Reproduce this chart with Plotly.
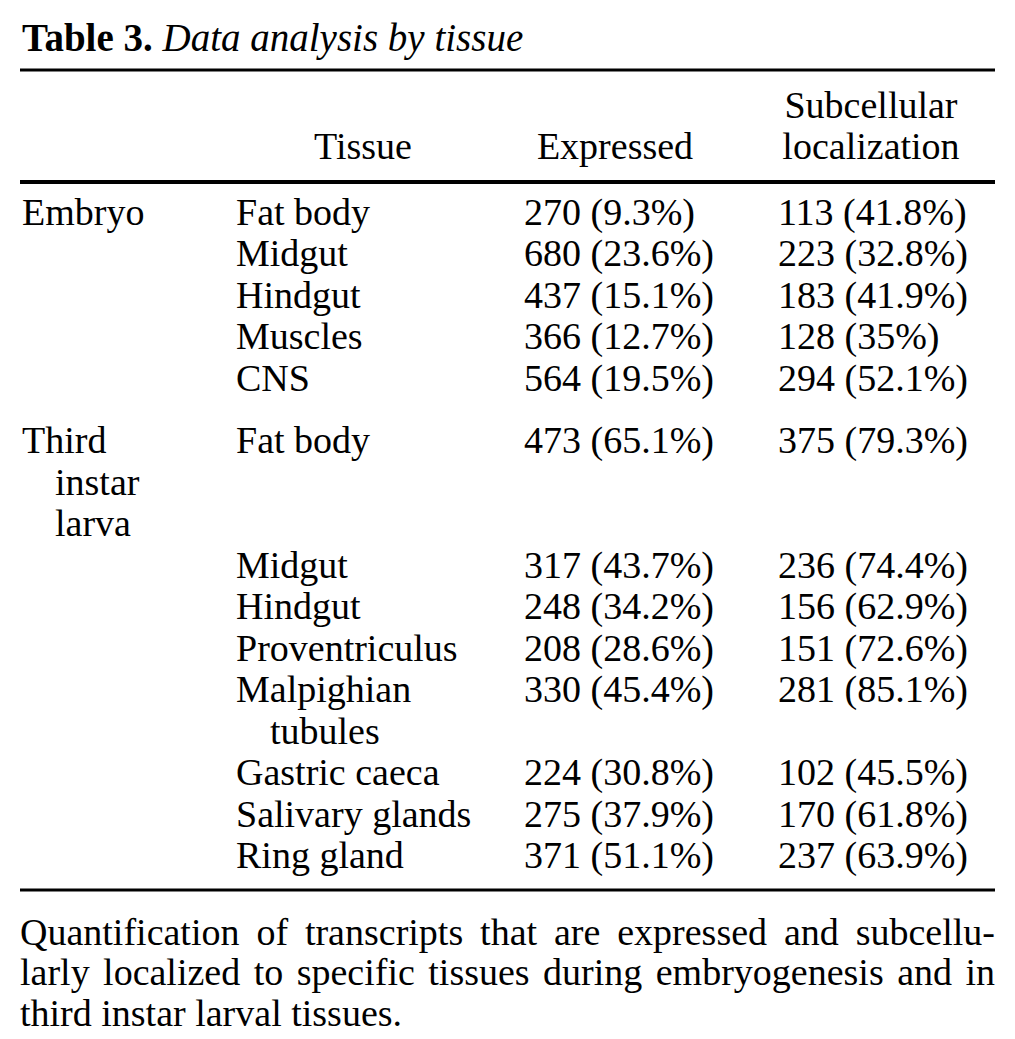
import plotly.graph_objects as go

# table content
stages = ["Embryo", "Third instar larva"]
tissues = [
    ["Fat body", "Midgut", "Hindgut", "Muscles", "CNS"],
    ["Fat body", "Midgut", "Hindgut", "Proventriculus", "Malpighian tubules",
     "Gastric caeca", "Salivary glands", "Ring gland"],
]
expressed_n = [
    [270, 680, 437, 366, 564],
    [473, 317, 248, 208, 330, 224, 275, 371],
]
expressed_pct = [
    ["9.3", "23.6", "15.1", "12.7", "19.5"],
    ["65.1", "43.7", "34.2", "28.6", "45.4", "30.8", "37.9", "51.1"],
]
subcell_n = [
    [113, 223, 183, 128, 294],
    [375, 236, 156, 151, 281, 102, 170, 237],
]
subcell_pct = [
    ["41.8", "32.8", "41.9", "35", "52.1"],
    ["79.3", "74.4", "62.9", "72.6", "85.1", "45.5", "61.8", "63.9"],
]
# how words wrap inside the narrow columns
stage_lines = {"Embryo": ["Embryo"], "Third instar larva": ["Third", "instar", "larva"]}
tissue_lines = {"Malpighian tubules": ["Malpighian", "tubules"]}

title_bold = "Table 3."
title_italic = "Data analysis by tissue"
headers = ["Tissue", "Expressed", ["Subcellular", "localization"]]
caption = [
    "Quantification of transcripts that are expressed and subcellu-",
    "larly localized to specific tissues during embryogenesis and in",
    "third instar larval tissues.",
]

W, H = 1015, 1039
FONT = "Liberation Serif"
FS = 38
CAP_FS = 38
LH = 41.5
GROUP_GAP = 21
Y0 = 215
X_STAGE, X_STAGE_IND = 22, 55
X_TISSUE, X_TISSUE_IND = 236, 270
X_EXP, X_SUB = 524, 778
LEFT, RIGHT = 20, 995

# Times-style advance widths (per 1000 em) for justifying the caption
ADV = dict(zip("abcdefghijklmnopqrstuvwxyz",
               [444, 500, 444, 500, 444, 333, 500, 500, 278, 278, 500, 278, 778,
                500, 500, 500, 500, 333, 389, 278, 500, 500, 722, 500, 500, 444]))
ADV.update({"Q": 722, "-": 333, ".": 250})


def word_width(w, size):
    return sum(ADV.get(c, 500) for c in w) * size / 1000


xs, ys, texts = [], [], []


def put(x, y, t):
    xs.append(x)
    ys.append(y)
    texts.append(t)


line = 0
for g, stage in enumerate(stages):
    y_base = Y0 + g * GROUP_GAP
    s_lines = stage_lines.get(stage, [stage])
    for k, s in enumerate(s_lines):
        put(X_STAGE if k == 0 else X_STAGE_IND, y_base + (line + k) * LH, s)
    for i, tissue in enumerate(tissues[g]):
        t_lines = tissue_lines.get(tissue, [tissue])
        y = y_base + line * LH
        for k, t in enumerate(t_lines):
            put(X_TISSUE if k == 0 else X_TISSUE_IND, y + k * LH, t)
        put(X_EXP, y, f"{expressed_n[g][i]} ({expressed_pct[g][i]}%)")
        put(X_SUB, y, f"{subcell_n[g][i]} ({subcell_pct[g][i]}%)")
        n = len(t_lines)
        if i == 0:
            n = max(n, len(s_lines))
        line += n

fig = go.Figure()
fig.add_trace(go.Scatter(
    x=xs, y=ys, text=texts, mode="text", textposition="middle right",
    textfont=dict(family=FONT, size=FS, color="black"), hoverinfo="skip",
    cliponaxis=False,
))

# header
fig.add_trace(go.Scatter(
    x=[363, 615, 871, 871], y=[149, 149, 108, 149],
    text=[headers[0], headers[1], headers[2][0], headers[2][1]],
    mode="text", textposition="middle center",
    textfont=dict(family=FONT, size=FS, color="black"), hoverinfo="skip",
    cliponaxis=False,
))

# caption, justified word by word except the last line
cx, cy, ct = [], [], []
for i, ln in enumerate(caption):
    words = ln.split()
    y = 935 + i * 40.5
    if i == len(caption) - 1:
        cx.append(LEFT), cy.append(y), ct.append(ln)
        continue
    widths = [word_width(w, CAP_FS) for w in words]
    gap = (RIGHT - LEFT - sum(widths)) / (len(words) - 1)
    x = LEFT
    for w, wd in zip(words, widths):
        cx.append(x), cy.append(y), ct.append(w)
        x += wd + gap
fig.add_trace(go.Scatter(
    x=cx, y=cy, text=ct, mode="text", textposition="middle right",
    textfont=dict(family=FONT, size=CAP_FS, color="black"), hoverinfo="skip",
    cliponaxis=False,
))

fig.add_annotation(
    x=LEFT, y=38, xref="x", yref="y", xanchor="left", yanchor="middle",
    text=f"<b>{title_bold}</b> <i>{title_italic}</i>", showarrow=False,
    font=dict(family=FONT, size=39, color="black"),
)

for y, w in [(70, 3), (182, 4), (890, 3)]:
    fig.add_shape(type="line", x0=LEFT, x1=RIGHT, y0=y, y1=y, xref="x", yref="y",
                  line=dict(color="black", width=w))

fig.update_layout(
    width=W, height=H, margin=dict(l=0, r=0, t=0, b=0),
    paper_bgcolor="white", plot_bgcolor="white", showlegend=False,
    xaxis=dict(range=[0, W], visible=False, fixedrange=True),
    yaxis=dict(range=[H, 0], visible=False, fixedrange=True),
)

# drop the default body margin so the figure sits at the page origin
fig.write_html("out.html", config={"displayModeBar": False},
               post_script="document.body.style.margin='0';")
